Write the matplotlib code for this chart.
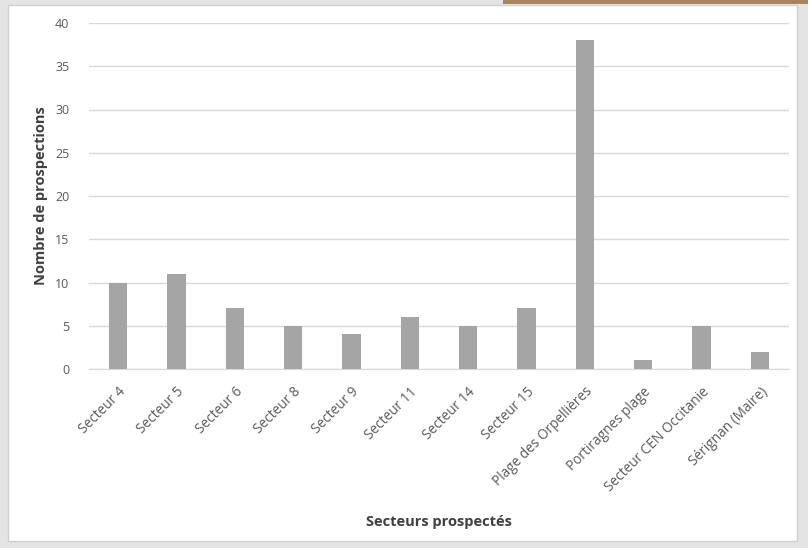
import matplotlib
matplotlib.use("Agg")
import matplotlib.pyplot as plt
from matplotlib.patches import Rectangle

categories = ["Secteur 4", "Secteur 5", "Secteur 6", "Secteur 8", "Secteur 9",
              "Secteur 11", "Secteur 14", "Secteur 15", "Plage des Orpellières",
              "Portiragnes plage", "Secteur CEN Occitanie", "Sérignan (Maire)"]
values = [10, 11, 7, 5, 4, 6, 5, 7, 38, 1, 5, 2]
yticks = [0, 5, 10, 15, 20, 25, 30, 35, 40]

plt.rcParams['font.family'] = ['Open Sans', 'DejaVu Sans']

fig = plt.figure(figsize=(8.08, 5.48), dpi=100)
fig.patch.set_facecolor('#e4e4e4')
# white panel
fig.patches.append(Rectangle((8/808, 1 - 541/548), (797-8)/808, (541-5)/548,
                             transform=fig.transFigure, facecolor='white',
                             edgecolor='#d0d0d0', linewidth=1.0, zorder=-10))
# brown strip at top right
fig.patches.append(Rectangle((503/808, 1 - 4/548), 305/808, 4/548,
                             transform=fig.transFigure, facecolor='#a9845c',
                             edgecolor='none', zorder=-9))

ax = fig.add_axes([89/808, 1 - 369/548, 700/808, (369-23)/548])
ax.set_zorder(5)
ax.set_facecolor('none')
x = range(len(categories))
ax.bar(x, values, width=0.31, color='#a5a5a5', zorder=3)
ax.set_xlim(-0.5, len(categories) - 0.5)
ax.set_ylim(0, 40)
ax.set_yticks(yticks)
ax.grid(axis='y', color='#d9d9d9', linewidth=1.0, zorder=0)
ax.set_axisbelow(True)
for s in ['top', 'right', 'left']:
    ax.spines[s].set_visible(False)
ax.spines['bottom'].set_color('#d9d9d9')
ax.tick_params(axis='both', length=0, colors='#595959')
ax.tick_params(axis='y', pad=14, labelsize=9)
ax.set_xticks(list(x))
ax.set_xticklabels(categories, rotation=45, ha='right', rotation_mode='anchor')
ax.tick_params(axis='x', pad=11, labelsize=9.8)
ax.set_ylabel("Nombre de prospections", fontsize=10.5, fontweight='bold', color='#404040', labelpad=5)
ax.set_xlabel("Secteurs prospectés", fontsize=10.5, fontweight='bold', color='#404040')
ax.xaxis.set_label_coords(0.5, -(515-369)/346)

fig.savefig("out.png", dpi=100, facecolor=fig.get_facecolor())
